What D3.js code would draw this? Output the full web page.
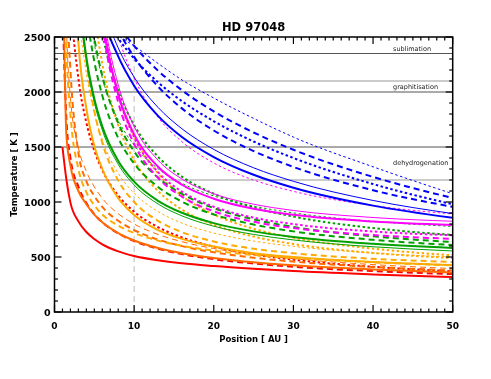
<!DOCTYPE html>
<html><head><meta charset="utf-8">
<script src="https://cdn.jsdelivr.net/npm/d3@7"></script>
<style>body{margin:0;background:#fff}svg{display:block;will-change:transform}text{-webkit-font-smoothing:antialiased}</style>
</head><body>
<script>
// ---------- data ----------
const title = "HD 97048";
const xLabel = "Position [ AU ]";
const yLabel = "Temperature [ K ]";
const xTicks = [0,10,20,30,40,50];
const yTicks = [0,500,1000,1500,2000,2500];
const refTemps = [2350,2100,2000,1500,1200];
const refShade = ["#555","#999","#555","#555","#999"];
const refNames = ["sublimation","graphitisation","dehydrogenation"];
const refNameTemps = [2350,2000,1200];
const markerX = 10;
const radii = [1,1.5,2,3,4,5,6,8,10,13,16,20,25,30,40,50];

const redSolid   = [1500,1200,994,824,727,663,615,551,509,470,443,418,393,372,342,318];
const redDash    = [2800,1745,1400,1140,990,890,815,714,645,575,526,480,441,411,372,345];
const redDot     = [4885,3577,2874,2123,1722,1467,1290,1059,912,771,678,594,524,475,411,370];
const oredSolid  = [3600,1600,1330,1100,980,885,815,717,650,582,535,491,452,424,386,360];
const oredDash   = [5000,3000,2200,1450,1190,1055,956,829,745,658,599,543,494,458,410,378];
const oredDashT  = [4500,2600,1950,1492,1278,1138,1034,893,800,705,639,577,523,484,431,395];
const orSolid    = [8000,5200,3900,2450,1850,1510,1300,1035,882,745,665,595,535,500,455,427];
const orDash     = [10463,6600,4760,3066,2277,1828,1540,1196,1000,829,726,641,575,534,484,455];
const orDash2    = [4000,2400,1800,1300,1090,970,887,785,718,649,602,557,518,490,451,425];
const orDot      = [16815,10467,7512,4749,3462,2729,2259,1699,1380,1100,931,793,686,618,537,491];
const orDot2     = [20350,12640,9050,5693,4130,3239,2669,1988,1600,1260,1056,887,757,675,576,515];
const orDotT     = [7605,5190,3980,2772,2168,1805,1563,1261,1080,913,808,718,645,597,536,500];
const grSolid    = [7969,5459,4200,2944,2316,1939,1687,1373,1185,1011,902,808,733,682,620,582];
const grSolidT   = [7905,5405,4155,2905,2280,1905,1655,1343,1155,982,874,780,705,655,593,555];
const grDash     = [10730,7300,5580,3860,3005,2490,2147,1718,1460,1222,1074,945,842,773,688,636];
const grDash2    = [9687,6600,5056,3512,2740,2277,1968,1582,1350,1137,1003,887,795,733,656,609];
const grDot      = [12950,8784,6700,4617,3575,2950,2533,2013,1700,1412,1231,1075,950,867,763,700];
const grDotT     = [9811,6739,5203,3666,2898,2437,2130,1746,1516,1303,1170,1055,963,901,824,778];
const mgSolid    = [29344,16300,10834,6220,4290,3270,2657,1976,1615,1321,1157,1030,939,884,823,791];
const mgSolidT   = [30740,17070,11340,6510,4490,3422,2780,2066,1688,1380,1209,1075,980,923,859,825];
const mgDash     = [30580,16900,11190,6350,4330,3262,2620,1906,1528,1220,1049,915,820,763,699,665];
const mgDot      = [31610,17480,11570,6580,4485,3381,2718,1980,1590,1271,1094,957,858,799,732,698];
const mgDotT     = [16032,10882,8307,5732,4445,3672,3157,2513,2127,1770,1548,1355,1200,1097,968,891];
const blSolid    = [7300,6200,5500,4300,3700,3100,2721,2324,2057,1783,1591,1409,1248,1130,967,856];
const blSolidT   = [7000,6000,5300,4200,3600,3050,2788,2401,2135,1860,1666,1478,1311,1188,1014,895];
const blDash     = [6500,5500,4800,3900,3400,3100,2909,2566,2319,2050,1851,1650,1463,1319,1107,956];
const blDot      = [6400,5400,4800,3900,3350,3000,2724,2488,2304,2088,1917,1734,1550,1400,1163,979];
const blDash2    = [6500,5600,5000,4100,3500,3150,2860,2612,2420,2194,2016,1824,1632,1475,1228,1036];
const blDotT     = [6000,5000,4400,3600,3150,2850,2680,2515,2420,2260,2110,1945,1760,1590,1320,1075];

const seriesValues = [redSolid,redDash,redDot,oredSolid,oredDash,oredDashT,orSolid,orDash,orDash2,orDot,orDot2,orDotT,
  grSolid,grSolidT,grDash,grDash2,grDot,grDotT,mgSolid,mgSolidT,mgDash,mgDot,mgDotT,blSolid,blSolidT,blDash,blDot,blDash2,blDotT];
const seriesColor = ["red","red","red","ored","ored","ored","or","or","or","or","or","or",
  "gr","gr","gr","gr","gr","gr","mg","mg","mg","mg","mg","bl","bl","bl","bl","bl","bl"];
const seriesStyle = ["solid","dash","dot","solid","dash","dashT","solid","dash","dash","dot","dot","dotT",
  "solid","solidT","dash","dash","dot","dotT","solid","solidT","dash","dot","dotT","solid","solidT","dash","dot","dash","dotT"];

// ---------- styles ----------
const palette = {red:"#ff0000", ored:"#ff6a00", or:"#ffaa00", gr:"#00a000", mg:"#ff00ff", bl:"#0000ff"};
const styles = {
  solid:{w:2,d:null}, solidT:{w:1,d:null}, dash:{w:2,d:"6,4"}, dashT:{w:1,d:"6,4"},
  dot:{w:2,d:"2.5,2.5"}, dotT:{w:1,d:"2.5,2.5"}
};

const W=491,H=379, L=54.5, R=452.7, T=37, B=312;
const svg=d3.select("body").append("svg").attr("width",W).attr("height",H);
svg.append("rect").attr("width",W).attr("height",H).attr("fill","#fff");
const x=d3.scaleLinear().domain([0,50]).range([L,R]);
const y=d3.scaleLinear().domain([0,2500]).range([B,T]);
const font="'DejaVu Sans', Arial, sans-serif";

svg.append("clipPath").attr("id","c").append("rect").attr("x",L).attr("y",T).attr("width",R-L).attr("height",B-T);
const g=svg.append("g").attr("clip-path","url(#c)");

// reference lines
refTemps.forEach((t,i)=>g.append("line").attr("x1",L).attr("x2",R).attr("y1",y(t)).attr("y2",y(t))
  .attr("stroke",refShade[i]).attr("stroke-width",1.2));
g.append("line").attr("x1",x(markerX)).attr("x2",x(markerX)).attr("y1",y(0)).attr("y2",y(2500))
  .attr("stroke","#bbb").attr("stroke-width",1).attr("stroke-dasharray","6,4");

const line=d3.line().x((d,i)=>x(radii[i])).y(d=>y(d)).curve(d3.curveMonotoneX);
seriesValues.forEach((vals,k)=>{
  const st=styles[seriesStyle[k]];
  g.append("path").attr("d",line(vals)).attr("fill","none")
   .attr("stroke",palette[seriesColor[k]]).attr("stroke-width",st.w)
   .attr("stroke-dasharray",st.d);
});

const txt=svg.append("g");
// labels for reference lines
refNames.forEach((n,i)=>txt.append("text").attr("x",393).attr("y",y(refNameTemps[i])-3 - (i==2?12:0))
  .attr("font-family",font).attr("font-size",6.5).attr("fill","#222").text(n));

// frame + ticks
svg.append("rect").attr("x",L).attr("y",T).attr("width",R-L).attr("height",B-T)
  .attr("fill","none").attr("stroke","#000").attr("stroke-width",1.5);
const xt=svg.append("g");
d3.range(0,51,1).forEach(v=>{
  const len=v%10===0?7:3.5;
  xt.append("line").attr("x1",x(v)).attr("x2",x(v)).attr("y1",B).attr("y2",B-len).attr("stroke","#000").attr("stroke-width",1.2);
  xt.append("line").attr("x1",x(v)).attr("x2",x(v)).attr("y1",T).attr("y2",T+len).attr("stroke","#000").attr("stroke-width",1.2);
});
d3.range(0,2501,100).forEach(v=>{
  const len=v%500===0?7:3.5;
  xt.append("line").attr("x1",L).attr("x2",L+len).attr("y1",y(v)).attr("y2",y(v)).attr("stroke","#000").attr("stroke-width",1.2);
  xt.append("line").attr("x1",R).attr("x2",R-len).attr("y1",y(v)).attr("y2",y(v)).attr("stroke","#000").attr("stroke-width",1.2);
});
xTicks.forEach(v=>txt.append("text").attr("x",x(v)).attr("y",B+17).attr("text-anchor","middle")
  .attr("font-family",font).attr("font-weight","bold").attr("font-size",9).text(v));
yTicks.forEach(v=>txt.append("text").attr("x",L-4).attr("y",y(v)+3.5).attr("text-anchor","end")
  .attr("font-family",font).attr("font-weight","bold").attr("font-size",9.5).text(v));
txt.append("text").attr("x",(L+R)/2).attr("y",B+30).attr("text-anchor","middle")
  .attr("font-family",font).attr("font-weight","bold").attr("font-size",8.5).text(xLabel);
txt.append("text").attr("transform",`translate(17,${(T+B)/2}) rotate(-90)`).attr("text-anchor","middle")
  .attr("font-family",font).attr("font-weight","bold").attr("font-size",8.5).text(yLabel);
txt.append("text").attr("x",(L+R)/2).attr("y",T-6).attr("text-anchor","middle")
  .attr("font-family",font).attr("font-weight","bold").attr("font-size",11.5).text(title);
</script>
</body></html>
